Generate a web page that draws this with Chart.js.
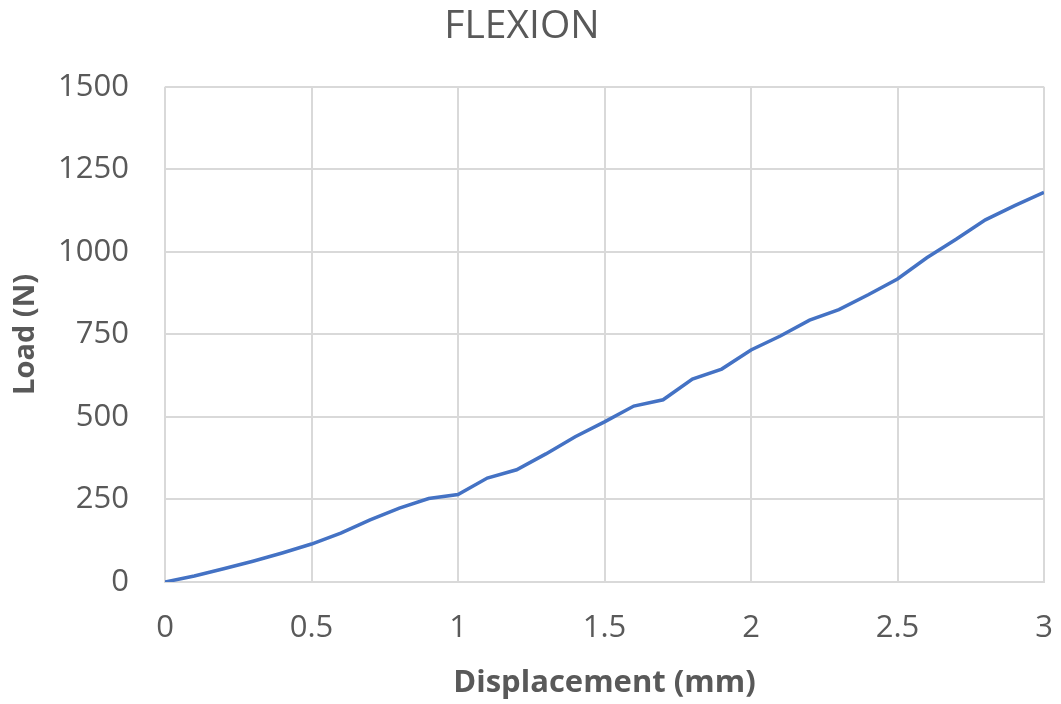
<!DOCTYPE html>
<html>
<head>
<meta charset="utf-8">
<script src="https://cdn.jsdelivr.net/npm/chart.js@4"></script>
<style>
  html, body { margin: 0; padding: 0; background: #fff; }
</style>
</head>
<body>
<canvas id="graph" width="1061" height="704"></canvas>
<script>
const displacement = [0, 0.1, 0.2, 0.3, 0.4, 0.5, 0.6, 0.7, 0.8, 0.9, 1.0,
  1.1, 1.2, 1.3, 1.4, 1.5, 1.6, 1.7, 1.8, 1.9, 2.0,
  2.1, 2.2, 2.3, 2.4, 2.5, 2.6, 2.7, 2.8, 2.9, 3.0];
const load = [0, 18, 40, 63, 88, 115, 148, 188, 224, 253, 265,
  315, 340, 388, 440, 485, 533, 552, 615, 645, 703,
  745, 793, 825, 870, 918, 982, 1038, 1097, 1140, 1180];

const ctx = document.getElementById("graph").getContext('2d');
const grey = "#595959";
const font = "'Open Sans', 'Liberation Sans', sans-serif";

let myChart = new Chart(ctx, {
  type: "line",
  data: {
    datasets: [
      {
        label: "Load",
        data: displacement.map((x, i) => ({ x: x, y: load[i] })),
        borderColor: "#4472C4",
        borderWidth: 3.5,
        pointRadius: 0,
        tension: 0,
        fill: false,
      },
    ],
  },
  options: {
    responsive: false,
    animation: false,
    layout: {
      padding: { left: 0, right: 17, top: 0, bottom: 0 },
    },
    plugins: {
      legend: { display: false },
      tooltip: { enabled: false },
      title: {
        display: true,
        text: "FLEXION",
        color: grey,
        font: { family: font, size: 39, weight: "normal" },
        padding: { top: 3, bottom: 37 },
      },
    },
    scales: {
      x: {
        type: "linear",
        min: 0,
        max: 3,
        afterFit: (s) => {
          s.height = 122;
          s.paddingLeft = 0;
          s.paddingRight = 0;
        },
        ticks: {
          stepSize: 0.5,
          color: grey,
          padding: 28,
          font: { family: font, size: 31 },
          callback: (v) => String(v),
        },
        grid: { color: "#d9d9d9", lineWidth: 2, drawTicks: false },
        border: { color: "#d9d9d9", width: 2 },
        title: {
          display: true,
          text: "Displacement (mm)",
          color: grey,
          font: { family: font, size: 31, weight: "bold" },
          padding: { top: 4, bottom: 2 },
        },
      },
      y: {
        min: 0,
        max: 1500,
        afterFit: (s) => { s.width = 165; },
        ticks: {
          stepSize: 250,
          color: grey,
          padding: 36,
          font: { family: font, size: 31 },
          callback: (v) => String(v),
        },
        grid: { color: "#d9d9d9", lineWidth: 2, drawTicks: false },
        border: { display: false },
        title: {
          display: true,
          text: "Load (N)",
          color: grey,
          font: { family: font, size: 29, weight: "bold" },
          padding: { top: 8, bottom: 4 },
        },
      },
    },
  },
});
</script>
</body>
</html>
